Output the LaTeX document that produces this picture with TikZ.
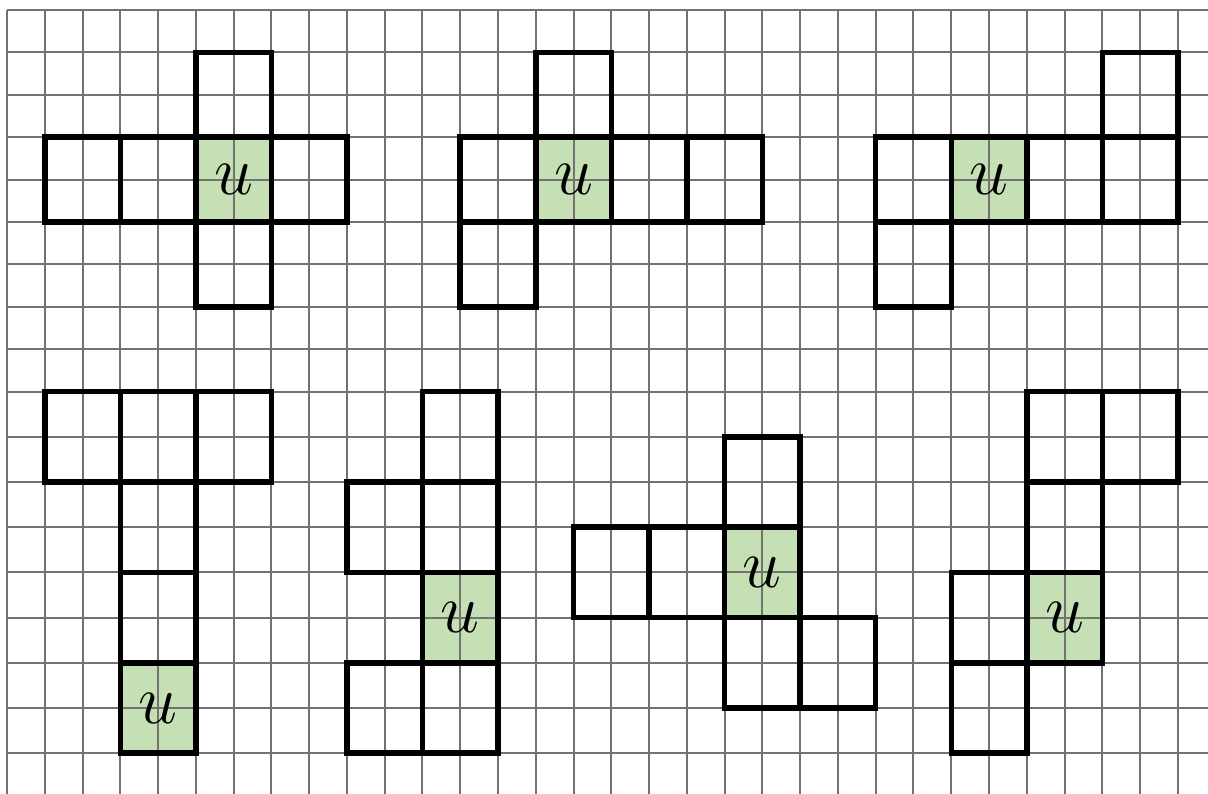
\documentclass[tikz,border=0pt]{standalone}
\definecolor{gridgray}{HTML}{767171}
\definecolor{facegreen}{HTML}{C5E0B4}
\tikzset{
  gridline/.style={gridgray,line width=0.04cm},
  netline/.style={black,line width=0.11cm},
  ulabel/.style={inner sep=0pt,font=\Huge,scale=1.6}
}

\begin{document}
\begin{tikzpicture}
\useasboundingbox (0,0) rectangle (24.16cm,-15.88cm);
\clip (0,0) rectangle (24.16cm,-15.88cm);
% upper row of nets
\begin{scope}[shift={(0.14cm,-0.2cm)},x=0.7554cm,y=-0.848cm]
\foreach \c/\r in {5/3,14/3,25/3} \fill[facegreen] (\c,\r) rectangle ++(2,2);
\foreach \c in {0,...,31} \draw[gridline] (\c,0) -- (\c,9);
\foreach \r in {0,...,9} \draw[gridline] (0,\r) -- (32,\r);
\foreach \c/\r in {1/3,3/3,5/3,7/3,5/1,5/5} \draw[netline] (\c,\r) rectangle ++(2,2);
\foreach \c/\r in {12/3,14/3,16/3,18/3,14/1,12/5} \draw[netline] (\c,\r) rectangle ++(2,2);
\foreach \c/\r in {23/3,25/3,27/3,29/3,29/1,23/5} \draw[netline] (\c,\r) rectangle ++(2,2);
\node[ulabel] (u1) at (6,4) {$u$};
\node[ulabel] (u2) at (15,4) {$u$};
\node[ulabel] (u3) at (26,4) {$u$};
\end{scope}
% lower row of nets
\begin{scope}[shift={(0.14cm,0.304cm)},x=0.7554cm,y=-0.904cm]
\foreach \c/\r in {3/15,11/13,19/12,27/13} \fill[facegreen] (\c,\r) rectangle ++(2,2);
\foreach \c in {0,...,31} \draw[gridline] (\c,9) -- (\c,18);
\foreach \r in {10,...,17} \draw[gridline] (0,\r) -- (32,\r);
\foreach \c/\r in {1/9,3/9,5/9,3/11,3/13,3/15} \draw[netline] (\c,\r) rectangle ++(2,2);
\foreach \c/\r in {11/9,9/11,11/11,11/13,9/15,11/15} \draw[netline] (\c,\r) rectangle ++(2,2);
\foreach \c/\r in {19/10,15/12,17/12,19/12,19/14,21/14} \draw[netline] (\c,\r) rectangle ++(2,2);
\foreach \c/\r in {27/9,29/9,27/11,25/13,27/13,25/15} \draw[netline] (\c,\r) rectangle ++(2,2);
\node[ulabel] (u4) at (4,16) {$u$};
\node[ulabel] (u5) at (12,14) {$u$};
\node[ulabel] (u6) at (20,13) {$u$};
\node[ulabel] (u7) at (28,14) {$u$};
\end{scope}
\end{tikzpicture}
\end{document}
